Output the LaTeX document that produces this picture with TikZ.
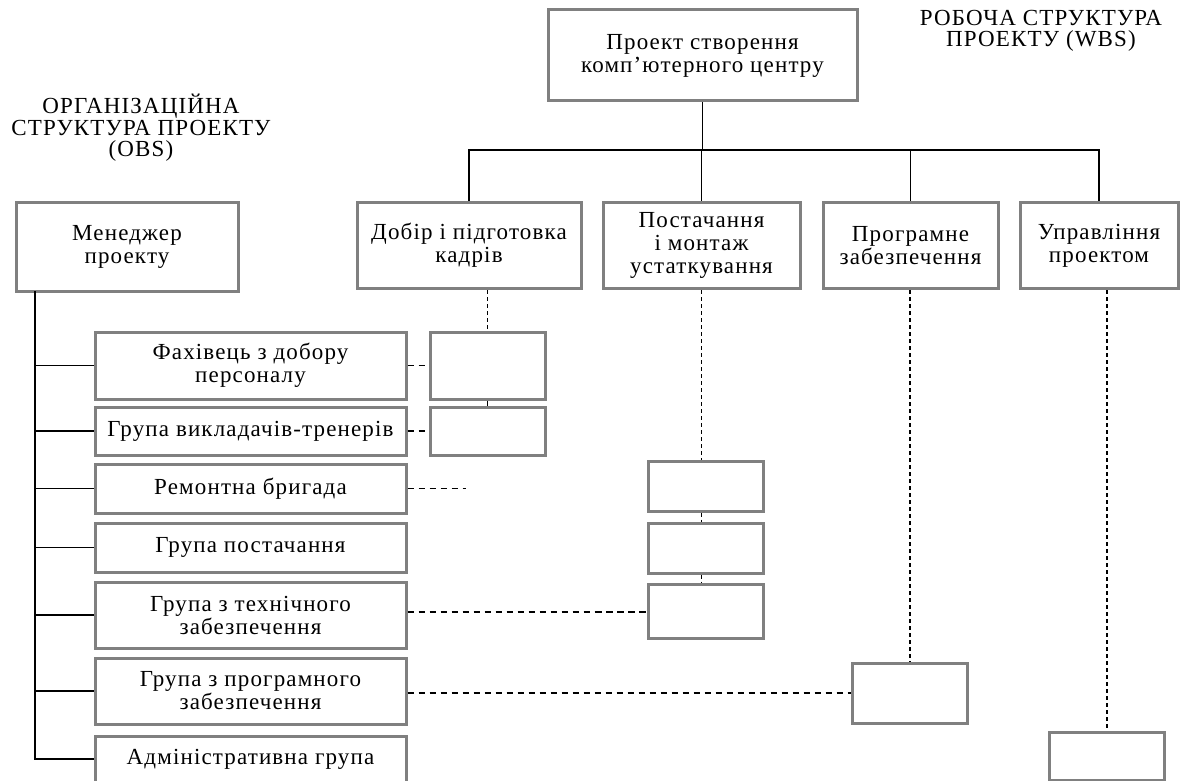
\documentclass[tikz,border=0pt]{standalone}
\usepackage{fontspec}
\setmainfont{Liberation Serif}[LetterSpace=5]
\definecolor{boxgray}{RGB}{128,128,128}
\begin{document}
\begin{tikzpicture}[x=1pt,y=-1pt,
  box/.style={draw=boxgray, line width=3pt, fill=white, align=center,
    inner sep=0pt, font=\fontsize{23}{23}\selectfont},
  obsbox/.style={box, minimum width=311pt},
  wbsbox/.style={box, minimum height=86pt},
  cell/.style={box, minimum width=115pt},
  title/.style={align=center, inner sep=0pt, font=\fontsize{23}{21.5}\selectfont},
  link/.style={draw=black, line width=1.2pt},
  dotlink/.style={draw=black, line width=1.3pt, dash pattern=on 6pt off 5pt},
  vdotlink/.style={draw=black, line width=1.4pt, dash pattern=on 4pt off 3pt}]
\useasboundingbox (0,0) rectangle (1181,781);

% headings
\node[title] (obs) at (141,128) {ОРГАНІЗАЦІЙНА\\СТРУКТУРА ПРОЕКТУ\\(OBS)};
\node[title] (wbs) at (1041,31) {РОБОЧА СТРУКТУРА\\ПРОЕКТУ (WBS)};

% work breakdown: root and first level
\node[box, minimum width=309pt, minimum height=91pt] (root) at (702.5,55.5)
  {Проект створення\\комп’ютерного центру};
\node[wbsbox, minimum width=224pt] (wA) at (469,245.5) {Добір і підготовка\\кадрів};
\node[wbsbox, minimum width=197pt] (wB) at (701.5,245.5) {Постачання\\і монтаж\\устаткування};
\node[wbsbox, minimum width=175pt] (wC) at (910.5,245.5) {Програмне\\забезпечення};
\node[wbsbox, minimum width=158pt] (wD) at (1099,245.5) {Управління\\проектом};

% organisation: manager and groups
\node[box, minimum width=222pt, minimum height=89pt] (mgr) at (127,246.5) {Менеджер\\проекту};
\node[obsbox, minimum height=67pt] (o1) at (250.5,365.5) {Фахівець з добору\\персоналу};
\node[obsbox, minimum height=48pt] (o2) at (250.5,431) {Група викладачів-тренерів};
\node[obsbox, minimum height=49pt] (o3) at (250.5,488.5) {Ремонтна бригада};
\node[obsbox, minimum height=49pt] (o4) at (250.5,547.5) {Група постачання};
\node[obsbox, minimum height=66pt] (o5) at (250.5,615) {Група з технічного\\забезпечення};
\node[obsbox, minimum height=66pt] (o6) at (250.5,691) {Група з програмного\\забезпечення};
\node[obsbox, minimum height=46pt] (o7) at (250.5,759) {Адміністративна група};

% responsibility cells
\node[cell, minimum height=67pt] (a1) at (487.5,365.5) {};
\node[cell, minimum height=48pt] (a2) at (487.5,431) {};
\node[cell, minimum height=50pt] (b1) at (705.5,486) {};
\node[cell, minimum height=50pt] (b2) at (705.5,548) {};
\node[cell, minimum height=54pt] (b3) at (705.5,611) {};
\node[cell, minimum height=60pt] (c1) at (910,693) {};
\node[cell, minimum height=48pt] (d1) at (1107,756) {};

% tree of the work breakdown
\coordinate (bus) at (702.5,150);
\draw[link] (root.south) -- (bus);
\draw[link] (bus) -| (wA.north);
\draw[link] (bus) -| (wB.north);
\draw[link] (bus) -| (wC.north);
\draw[link] (bus) -| (wD.north);

% tree of the organisation
\coordinate (spine) at (35,291);
\foreach \g in {o1,o2,o3,o4,o5,o6,o7}
  \draw[link] (spine) |- (\g.west);

% links from work packages down to cells
\draw[vdotlink] (wA.south -| a1.north) -- (a1.north);
\draw[link] (a1.south) -- (a2.north);
\draw[vdotlink] (wB.south) -- (wB.south |- b1.north);
\draw[vdotlink] (b1.south -| wB.south) -- (b2.north -| wB.south);
\draw[vdotlink] (b2.south -| wB.south) -- (b3.north -| wB.south);
\draw[vdotlink] (wC.south -| c1.north) -- (c1.north);
\draw[vdotlink] (wD.south -| d1.north) -- (d1.north);

% links from groups across to cells
\draw[dotlink] (o1.east) -- (a1.west);
\draw[dotlink] (o2.east) -- (a2.west);
\coordinate (o3end) at (466,488.5);
\draw[dotlink] (o3.east) -- (o3end);
\coordinate (o5mid) at (595,612);
\draw[dotlink] (o5.east |- o5mid) -- (o5mid);
\draw[draw=black, line width=2.4pt, dash pattern=on 7pt off 4pt] (o5mid) -- (o5mid -| b3.west);
\draw[dotlink] (o6.east |- c1.west) -- (c1.west);
\end{tikzpicture}
\end{document}
